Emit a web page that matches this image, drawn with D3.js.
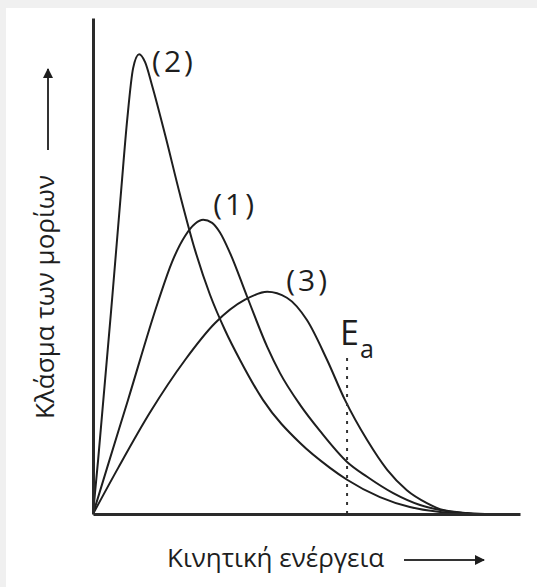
<!DOCTYPE html>
<html>
<head>
<meta charset="utf-8">
<script src="https://cdn.jsdelivr.net/npm/d3@7"></script>
<style>
  html, body { margin: 0; padding: 0; background: #f0f0f0; }
  text { font-family: "Open Sans", "Noto Sans", sans-serif; fill: #1e1e1e; }
</style>
</head>
<body>
<script>
// kinetic energy (arbitrary units) and fraction of molecules (arbitrary units), per curve
const energy1 = [0, 3.3, 8.2, 15.2, 18.5, 21.6, 23.9, 25.8, 27.9, 29.7, 32.1, 36.1, 40.8, 43.8, 48.5, 53.2, 59.5, 64.2, 70.3, 76.6, 81.3, 89];
const fraction1 = [0, 9.3, 23, 42.7, 50.8, 56.1, 58.5, 59.3, 58.7, 56.8, 52.6, 43.8, 33.7, 28.4, 22, 16.7, 10.5, 7.5, 4.2, 1.8, 0.8, 0];

const energy2 = [0, 1.2, 4.5, 6.6, 8, 9.4, 10.8, 12.2, 13.8, 16.9, 20.4, 23.9, 27.4, 30.9, 34.4, 39.8, 48.5, 55.5, 59.5, 67.2, 74.2, 81.3, 89];
const fraction2 = [0, 10.9, 43.6, 65.3, 79.4, 89.9, 92.7, 91.1, 86.5, 76.4, 64.3, 53.2, 44.2, 37.1, 31.1, 23, 14.3, 9.3, 6.9, 3.4, 1.4, 0.4, 0];

const energy3 = [0, 5.9, 13.3, 21.6, 28.6, 35.6, 40.8, 45.4, 50.1, 54.8, 59, 64.2, 68.9, 73.5, 78.2, 82, 87.6, 91.8];
const fraction3 = [0, 9.3, 20.4, 31.1, 38.5, 43.2, 44.8, 43.6, 39.1, 31.1, 23, 14.9, 8.9, 4.8, 2.2, 0.8, 0.2, 0];

const curveNames = ["(1)", "(2)", "(3)"];
const activationEnergy = 59.5;
const activationTop = 32.5;

const xTitle = "Κινητική ενέργεια";
const yTitle = "Κλάσμα των μορίων";

const width = 537;
const height = 587;

const svg = d3.select("body").append("svg")
    .attr("width", width)
    .attr("height", height);

// light frame on the top and left, white page
svg.append("rect").attr("width", width).attr("height", height).attr("fill", "#f0f0f0");
svg.append("rect").attr("x", 6).attr("y", 8).attr("width", width - 6).attr("height", height - 8).attr("fill", "#ffffff");

const x = d3.scaleLinear().domain([0, 100]).range([93, 520]);
const y = d3.scaleLinear().domain([0, 100]).range([514, 18]);

const curves = [
    { name: curveNames[0], pts: d3.zip(energy1, fraction1), dx: 10, dy: -5 },
    { name: curveNames[1], pts: d3.zip(energy2, fraction2), dx: 13, dy: 18 },
    { name: curveNames[2], pts: d3.zip(energy3, fraction3), dx: 19, dy: -1 }
];

let line = d3.line()
    .x(d => x(d[0]))
    .y(d => y(d[1]))
    .curve(d3.curveMonotoneX);

svg.append("g").selectAll("path")
    .data(curves)
    .enter()
    .append("path")
    .attr("d", d => line(d.pts))
    .attr("fill", "none")
    .attr("stroke", "#1e1e1e")
    .attr("stroke-width", 2);

// curve labels next to each maximum
svg.append("g").selectAll("text")
    .data(curves)
    .enter()
    .append("text")
    .attr("x", d => {
        let peak = d3.greatest(d.pts, p => p[1]);
        return x(peak[0]) + d.dx;
    })
    .attr("y", d => {
        let peak = d3.greatest(d.pts, p => p[1]);
        return y(peak[1]) + d.dy;
    })
    .attr("font-size", 30)
    .attr("letter-spacing", 3)
    .text(d => d.name);

// activation energy marker
svg.append("line")
    .attr("x1", x(activationEnergy))
    .attr("x2", x(activationEnergy))
    .attr("y1", y(0))
    .attr("y2", y(activationTop))
    .attr("stroke", "#333")
    .attr("stroke-width", 2)
    .attr("stroke-dasharray", "3,6");

let ea = svg.append("text")
    .attr("x", x(activationEnergy) - 7)
    .attr("y", y(activationTop) - 8);
ea.append("tspan").attr("font-size", 34).text("E");
ea.append("tspan").attr("font-size", 25).attr("dx", 1).attr("dy", 13).text("a");

// axes without ticks
let xAxis = svg.append("g")
    .attr("transform", "translate(0," + y(0) + ")")
    .call(d3.axisBottom(x).ticks(0).tickSizeOuter(0));
let yAxis = svg.append("g")
    .attr("transform", "translate(" + x(0) + ",0)")
    .call(d3.axisLeft(y).ticks(0).tickSizeOuter(0));
[xAxis, yAxis].forEach(a => a.select(".domain").attr("stroke", "#2a2a2a").attr("stroke-width", 3));

// arrow heads
svg.append("defs").append("marker")
    .attr("id", "head")
    .attr("viewBox", "0 0 10 10")
    .attr("refX", 9)
    .attr("refY", 5)
    .attr("markerWidth", 10)
    .attr("markerHeight", 10)
    .attr("markerUnits", "userSpaceOnUse")
    .attr("orient", "auto")
    .append("path")
    .attr("d", "M0,0L10,5L0,10Z")
    .attr("fill", "#1e1e1e");

// axis titles with arrows
svg.append("text")
    .attr("x", 167)
    .attr("y", 567)
    .attr("font-size", 26)
    .text(xTitle);
svg.append("line")
    .attr("x1", 404).attr("x2", 484)
    .attr("y1", 560).attr("y2", 560)
    .attr("stroke", "#333").attr("stroke-width", 2)
    .attr("marker-end", "url(#head)");

svg.append("text")
    .attr("transform", "translate(54,297) rotate(-90)")
    .attr("text-anchor", "middle")
    .attr("font-size", 26)
    .text(yTitle);
svg.append("line")
    .attr("x1", 48).attr("x2", 48)
    .attr("y1", 150).attr("y2", 69)
    .attr("stroke", "#333").attr("stroke-width", 2)
    .attr("marker-end", "url(#head)");
</script>
</body>
</html>
